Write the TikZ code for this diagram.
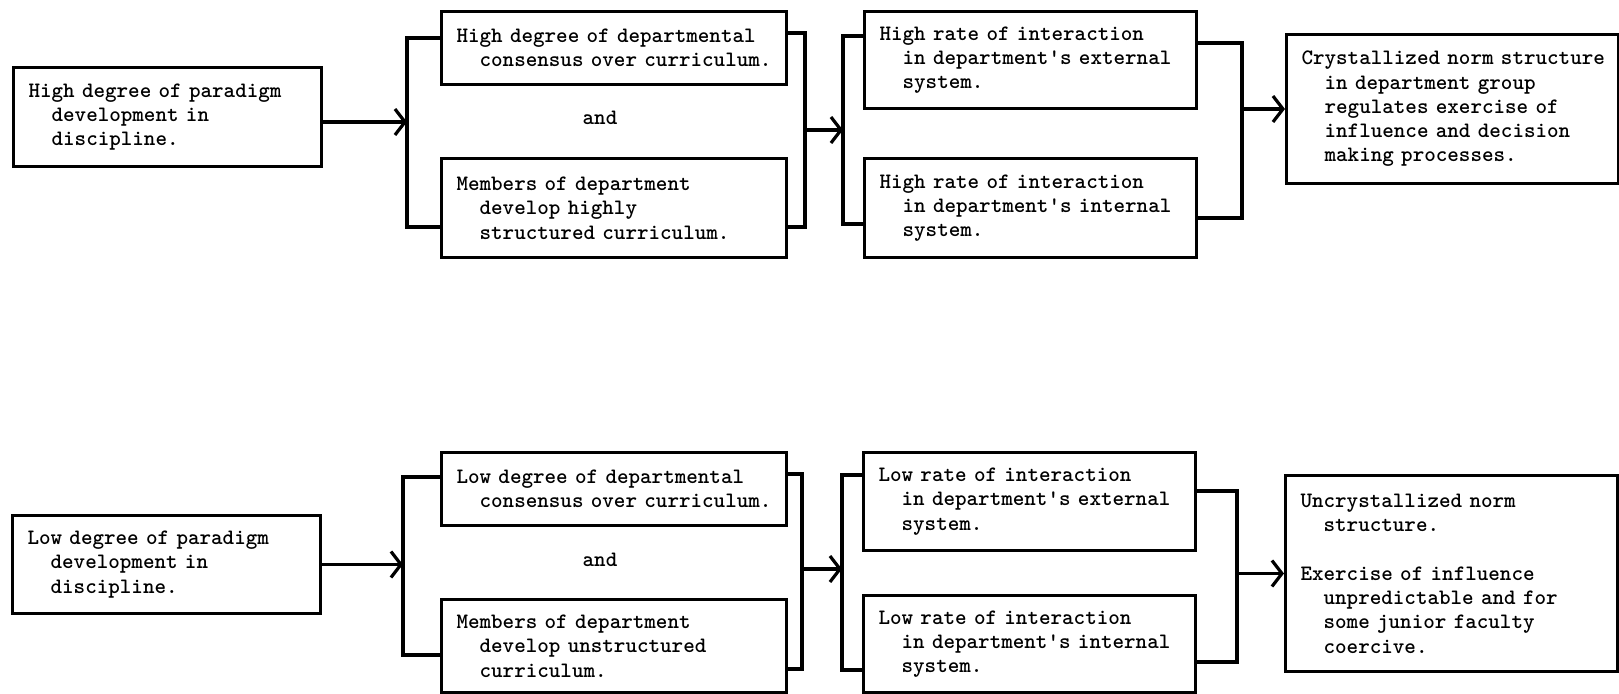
\documentclass[tikz,border=0pt]{standalone}
\usepackage{tikz}
\usetikzlibrary{positioning,arrows.meta}
\newcommand{\ind}{\hspace*{1.05em}}
\newcommand{\apos}{\textquotesingle}
\tikzset{
  box/.style={draw, line width=1.5pt, anchor=north west, align=left, inner xsep=7.5pt, inner ysep=0pt, text width=#1, font=\ttfamily\bfseries\fontsize{11}{12.15}\selectfont},
  txt/.style={font=\ttfamily\bfseries\fontsize{11}{12.15}\selectfont},
  link/.style={line width=1.6pt},
  arr/.style={line width=1.6pt, -{Straight Barb[length=5pt,width=13pt]}}
}

\begin{document}
\begin{tikzpicture}[x=0.5pt,y=-0.5pt]
\useasboundingbox (0,0) rectangle (1619,694);

\node[box=139pt, minimum height=49.5pt] (hpar) at (12,66) {High degree of paradigm\\\ind development in\\\ind discipline.};
\node[box=157.5pt, minimum height=36.5pt] (hcon) at (440,10) {High degree of departmental\\\mbox{\ind consensus over curriculum.}};
\node[txt] (hand) at (600,118) {and};
\node[box=157.5pt, minimum height=49.5pt] (hcur) at (440,157) {Members of department\\\ind develop highly\\\ind structured curriculum.};
\node[box=151pt, minimum height=48.5pt] (hext) at (863,10) {High rate of interaction\\\ind in department\apos s external\\\ind system.};
\node[box=151pt, minimum height=49.5pt] (hint) at (863,157) {High rate of interaction\\\ind in department\apos s internal\\\ind system.};
\node[box=151pt, minimum height=74.5pt] (hnorm) at (1285,33) {\mbox{Crystallized norm structure}\\\ind in department group\\\ind regulates exercise of\\\ind influence and decision\\\ind making processes.};

\coordinate (p1t) at (407,38);
\coordinate (p1b) at (407,227);
\draw[link] (hcon.west |- p1t) -- (p1t) -- (p1b) -- (hcur.west |- p1b);
\draw[arr] ([yshift=-2.5pt]hpar.east) -- ([yshift=-2.5pt]hpar.east -| p1t);
\coordinate (q1t) at (805,33);
\coordinate (q1b) at (805,227);
\draw[link] (hcon.east |- q1t) -- (q1t) -- (q1b) -- (hcur.east |- q1b);
\coordinate (p2t) at (843,36);
\coordinate (p2b) at (843,224);
\draw[link] (hext.west |- p2t) -- (p2t) -- (p2b) -- (hint.west |- p2b);
\coordinate (m1) at (805,130);
\draw[arr] (m1) -- (m1 -| p2t);
\coordinate (q2t) at (1242,43);
\coordinate (q2b) at (1242,218);
\draw[link] (hext.east |- q2t) -- (q2t) -- (q2b) -- (hint.east |- q2b);
\draw[arr] (hnorm.west -| q2t) -- (hnorm.west);

\node[box=139pt, minimum height=49pt] (lpar) at (11,514) {Low degree of paradigm\\\ind development in\\\ind discipline.};
\node[box=157.5pt, minimum height=36.5pt] (lcon) at (440,451) {Low degree of departmental\\\mbox{\ind consensus over curriculum.}};
\node[txt] (land) at (600,560) {and};
\node[box=157.5pt, minimum height=46.5pt] (lcur) at (440,598) {Members of department\\\ind develop unstructured\\\ind curriculum.};
\node[box=151pt, minimum height=49pt] (lext) at (862,451) {Low rate of interaction\\\ind in department\apos s external\\\ind system.};
\node[box=151pt, minimum height=48.5pt] (lint) at (862,594) {Low rate of interaction\\\ind in department\apos s internal\\\ind system.};
\node[box=151pt, minimum height=98pt] (lnorm) at (1284,474) {Uncrystallized norm\\\ind structure.\\[12.15pt]Exercise of influence\\\ind unpredictable and for\\\ind some junior faculty\\\ind coercive.};

\coordinate (p3t) at (403,477);
\coordinate (p3b) at (403,655);
\draw[link] (lcon.west |- p3t) -- (p3t) -- (p3b) -- (lcur.west |- p3b);
\draw[arr] (lpar.east) -- (lpar.east -| p3t);
\coordinate (q3t) at (802,474);
\coordinate (q3b) at (802,669);
\draw[link] (lcon.east |- q3t) -- (q3t) -- (q3b) -- (lcur.east |- q3b);
\coordinate (p4t) at (842,475);
\coordinate (p4b) at (842,670);
\draw[link] (lext.west |- p4t) -- (p4t) -- (p4b) -- (lint.west |- p4b);
\coordinate (m2) at (802,569);
\draw[arr] (m2) -- (m2 -| p4t);
\coordinate (q4t) at (1237,491);
\coordinate (q4b) at (1237,662);
\draw[link] (lext.east |- q4t) -- (q4t) -- (q4b) -- (lint.east |- q4b);
\draw[arr] (lnorm.west -| q4t) -- (lnorm.west);
\end{tikzpicture}
\end{document}
